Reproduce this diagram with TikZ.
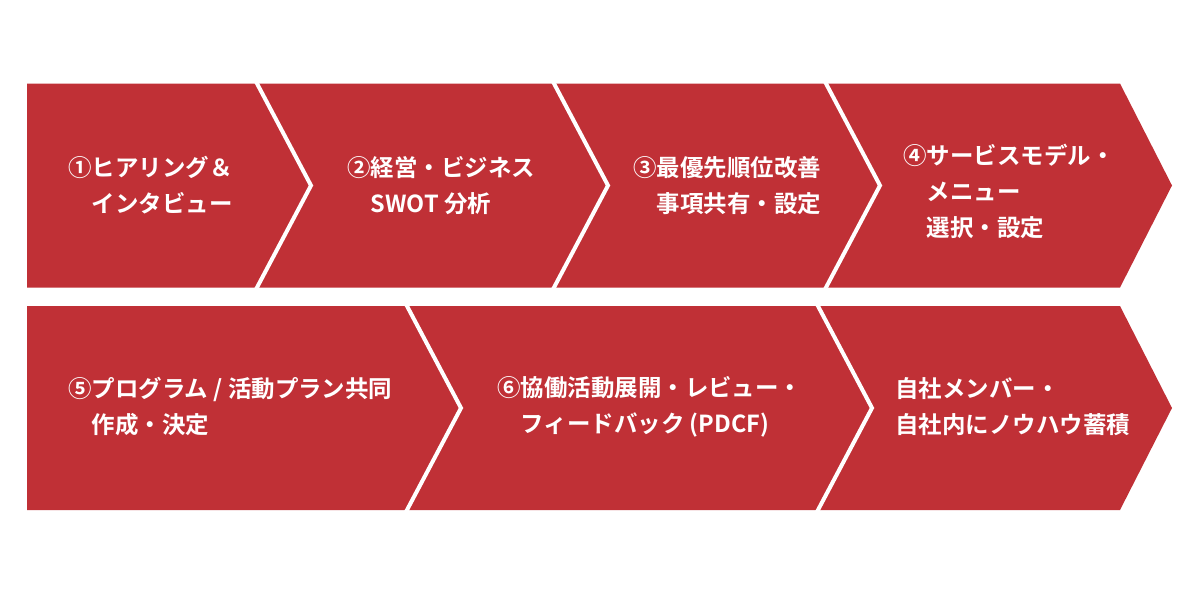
\documentclass[tikz,border=0pt]{standalone}
\usepackage{fontspec}
\setmainfont{Noto Sans CJK JP}[BoldFont={Noto Sans CJK JP Bold}]
\usetikzlibrary{positioning}
\definecolor{stepred}{HTML}{C03036}

\begin{document}
\begin{tikzpicture}[x=0.75pt, y=-0.75pt, row/.style={fill=stepred},
    gap/.style={draw=white, line width=3pt, line join=miter},
    steptext/.style={anchor=west, align=left, text=white, inner sep=0pt,
      font=\bfseries\fontsize{17.6pt}{27pt}\selectfont}, ]

    \useasboundingbox (0,0) rectangle (1200,600);

    % Rows
    \fill[row] (27,83.5) -- (1120,83.5) -- (1172,185.5) -- (1120,287.5) --
    (27,287.5) -- cycle; \fill[row] (27,306) -- (1120,306) -- (1172,408) --
    (1120,510) -- (27,510) -- cycle;

    % Separators
    \foreach \x in {257,554,826} \draw[gap] ({\x-1.6},80.5) -- ({\x+54},185.5)
    -- ({\x-1.6},290.5); \foreach \x in {407,818} \draw[gap] ({\x-1.6},303)
    -- ({\x+54},408) -- ({\x-1.6},513);

    % Labels upper row
    \node[steptext] (hearing) at (68,185.5) {①ヒアリング＆\\\phantom{①}インタビュー};
    \node[steptext] (swot) at (347,185.5) {②経営・ビジネス\\\phantom{②}SWOT 分析};
    \node[steptext] (priority) at (633,185.5) {③最優先順位改善\\\phantom{③}事項共有・設定};
    \node[steptext] (service) at (903,191)
    {④サービスモデル・\\\phantom{④}メニュー\\\phantom{④}選択・設定};

    % Labels lower row
    \node[steptext] (program) at (68,406.5)
    {⑤プログラム / 活動プラン共同\\\phantom{⑤}作成・決定};
    \node[steptext] (pdcf) at (497,406.5)
    {⑥協働活動展開・レビュー・\\\phantom{⑥}フィードバック (PDCF)};
    \node[steptext] (knowhow) at (895,406.5) {自社メンバー・\\自社内にノウハウ蓄積};

\end{tikzpicture}
\end{document}
